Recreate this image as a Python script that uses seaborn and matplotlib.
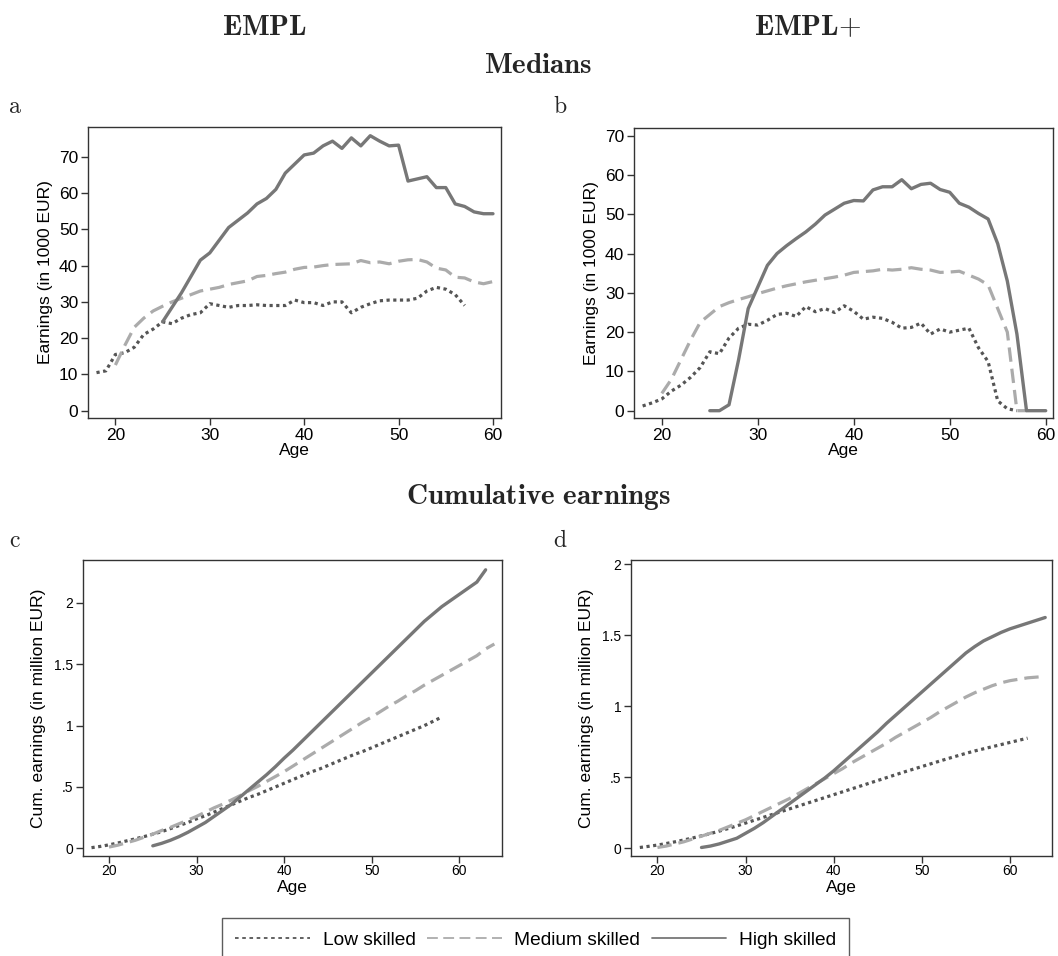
import numpy as np
import pandas as pd
import matplotlib
matplotlib.use("Agg")
import matplotlib.pyplot as plt
from matplotlib.lines import Line2D
import seaborn as sns

# ---------------- data ----------------
groups = ["Low skilled", "Medium skilled", "High skilled"]

# Panel a: medians EMPL (1000 EUR)
a_low_start, a_med_start, a_high_start = 18, 20, 25
a_low = [10.5, 11, 15.5, 16, 17.5, 21, 22.5, 24.5, 24, 25.5, 26.5, 27, 29.5, 29, 28.5, 29, 29, 29.2, 29, 29,
         29, 30.5, 29.8, 29.8, 29, 30, 30, 27, 28.5, 29.5, 30.3, 30.5, 30.5, 30.5, 31, 33, 34, 33.5, 32, 29]
a_med = [12.6, 18, 23, 25.5, 27.5, 28.8, 30, 31, 32, 33, 33.5, 34, 34.8, 35.3, 35.8, 37, 37.3, 37.8, 38.2, 39,
         39.5, 39.6, 40, 40.3, 40.4, 40.5, 41.4, 40.8, 41, 40.5, 41.2, 41.6, 41.7, 41, 39.3, 38.8, 36.8, 36.6,
         35.5, 35, 35.6]
a_high = [24.5, 28.5, 32.5, 37, 41.5, 43.5, 47, 50.5, 52.5, 54.5, 57, 58.5, 61, 65.5, 68, 70.5, 71, 73, 74.3,
          72.3, 75.2, 73, 75.8, 74.3, 73, 73.2, 63.3, 63.9, 64.5, 61.5, 61.5, 57, 56.3, 54.8, 54.3, 54.3]

# Panel b: medians EMPL+ (1000 EUR)
b_low_start, b_med_start, b_high_start = 18, 20, 25
b_low = [1.2, 2, 3, 5, 6.5, 8.5, 11, 15, 14.5, 18.5, 21, 22, 21.8, 23, 24.5, 24.8, 24, 26.5, 25.2, 26, 25,
         26.7, 25.3, 23.3, 23.8, 23.5, 22.5, 21, 21.2, 22.3, 19.5, 20.8, 20, 20.5, 21, 16, 12.5, 2.5, 0.5, 0]
b_med = [4.4, 8, 13, 18, 22.5, 24.5, 26.5, 27.5, 28.3, 29, 29.8, 30.5, 31.2, 31.8, 32.3, 32.8, 33.2, 33.6, 34,
         34.5, 35.2, 35.4, 35.6, 36, 35.8, 36, 36.4, 36, 35.8, 35.2, 35.3, 35.5, 34.5, 33.5, 32, 26, 20, 0, 0]
b_high = [0, 0, 1.5, 13, 26, 31.5, 37, 40, 42, 43.8, 45.5, 47.5, 49.8, 51.3, 52.8, 53.5, 53.4, 56.2, 57, 57,
          58.8, 56.5, 57.6, 57.9, 56.3, 55.6, 52.8, 51.8, 50.2, 48.8, 42.5, 33, 19.5, 0, 0, 0]

# Panel c: cumulative EMPL (million EUR)
c_low_start, c_med_start, c_high_start = 18, 20, 25
c_low = [0.005, 0.015, 0.028, 0.043, 0.06, 0.077, 0.095, 0.115, 0.135, 0.16, 0.185, 0.21, 0.24, 0.265, 0.295,
         0.325, 0.355, 0.385, 0.415, 0.44, 0.47, 0.5, 0.53, 0.56, 0.59, 0.62, 0.645, 0.675, 0.705, 0.735,
         0.765, 0.79, 0.82, 0.85, 0.88, 0.91, 0.94, 0.97, 1.0, 1.035, 1.07]
c_med = [0.01, 0.025, 0.045, 0.065, 0.09, 0.115, 0.145, 0.17, 0.2, 0.23, 0.26, 0.295, 0.33, 0.36, 0.395, 0.43,
         0.47, 0.505, 0.545, 0.585, 0.625, 0.67, 0.715, 0.76, 0.805, 0.85, 0.895, 0.94, 0.985, 1.03, 1.07,
         1.115, 1.16, 1.2, 1.245, 1.285, 1.33, 1.37, 1.41, 1.45, 1.49, 1.53, 1.57, 1.625, 1.665]
c_high = [0.02, 0.04, 0.065, 0.095, 0.13, 0.17, 0.21, 0.26, 0.31, 0.36, 0.42, 0.48, 0.54, 0.6, 0.665, 0.735,
          0.8, 0.87, 0.94, 1.01, 1.08, 1.15, 1.22, 1.29, 1.36, 1.43, 1.5, 1.57, 1.64, 1.71, 1.78, 1.85, 1.91,
          1.97, 2.02, 2.07, 2.12, 2.17, 2.27]

# Panel d: cumulative EMPL+ (million EUR)
d_low_start, d_med_start, d_high_start = 18, 20, 25
d_low = [0.005, 0.013, 0.022, 0.033, 0.045, 0.058, 0.072, 0.087, 0.103, 0.12, 0.138, 0.157, 0.177, 0.197,
         0.217, 0.237, 0.257, 0.277, 0.297, 0.317, 0.337, 0.357, 0.377, 0.397, 0.417, 0.437, 0.457, 0.477,
         0.497, 0.517, 0.537, 0.556, 0.575, 0.594, 0.613, 0.632, 0.65, 0.668, 0.685, 0.7, 0.715, 0.73, 0.745,
         0.76, 0.775]
d_med = [0.005, 0.015, 0.03, 0.045, 0.065, 0.085, 0.105, 0.125, 0.15, 0.175, 0.2, 0.23, 0.26, 0.29, 0.32, 0.35,
         0.385, 0.42, 0.455, 0.49, 0.525, 0.56, 0.6, 0.635, 0.67, 0.705, 0.74, 0.78, 0.815, 0.85, 0.885, 0.92,
         0.96, 0.995, 1.03, 1.065, 1.095, 1.12, 1.145, 1.165, 1.18, 1.19, 1.2, 1.205, 1.21]
d_high = [0.005, 0.015, 0.03, 0.05, 0.07, 0.105, 0.14, 0.18, 0.225, 0.27, 0.315, 0.36, 0.405, 0.45, 0.495,
          0.545, 0.6, 0.655, 0.71, 0.765, 0.82, 0.88, 0.935, 0.99, 1.045, 1.1, 1.155, 1.21, 1.265, 1.32,
          1.375, 1.42, 1.46, 1.49, 1.52, 1.545, 1.565, 1.585, 1.605, 1.625]

xticks = [20, 30, 40, 50, 60]
ab_yticks = [0, 10, 20, 30, 40, 50, 60, 70]
cd_yticks = [0, 0.5, 1, 1.5, 2]
cd_yticklabels = ["0", ".5", "1", "1.5", "2"]


def frame(start, values, group):
    return pd.DataFrame({"Age": np.arange(start, start + len(values)), "value": values, "group": group})


# ---------------- style ----------------
sns.set_theme(style="white")
plt.rcParams["font.family"] = ["Liberation Sans", "DejaVu Sans"]
plt.rcParams["mathtext.fontset"] = "cm"

colors = {"Low skilled": "#555555", "Medium skilled": "#ababab", "High skilled": "#777777"}
styles = {"Low skilled": (0, (1, 1.1)), "Medium skilled": (0, (4.5, 2.2)), "High skilled": "-"}
lws = {"Low skilled": 2.3, "Medium skilled": 2.3, "High skilled": 2.4}

W, H = 1058, 956
fig = plt.figure(figsize=(W / 100, H / 100), dpi=100)
fig.patch.set_facecolor("white")


def box(l, t, r, b):
    return [l / W, 1 - b / H, (r - l) / W, (b - t) / H]


axa = fig.add_axes(box(88, 127, 501, 418))
axb = fig.add_axes(box(634, 128, 1053, 418))
axc = fig.add_axes(box(83, 560, 502, 856))
axd = fig.add_axes(box(631, 560, 1052, 856))

panels = [
    (axa, [(a_low_start, a_low), (a_med_start, a_med), (a_high_start, a_high)]),
    (axb, [(b_low_start, b_low), (b_med_start, b_med), (b_high_start, b_high)]),
    (axc, [(c_low_start, c_low), (c_med_start, c_med), (c_high_start, c_high)]),
    (axd, [(d_low_start, d_low), (d_med_start, d_med), (d_high_start, d_high)]),
]

for ax, series in panels:
    for g, (start, vals) in zip(groups, series):
        df = frame(start, vals, g)
        sns.lineplot(data=df, x="Age", y="value", ax=ax, color=colors[g], linestyle=styles[g],
                     linewidth=lws[g], errorbar=None, sort=False, legend=False)
    for s in ax.spines.values():
        s.set_color("#333333")
        s.set_linewidth(1.0)
    ax.set_xticks(xticks)
    ax.tick_params(axis="both", which="both", direction="out", length=5, width=1, color="#333333",
                   bottom=True, left=True, top=False, right=False, pad=2)
    ax.set_xlabel("Age", fontsize=12.5, labelpad=0, color="black")

# a/b
axa.set_xlim(17.1, 60.85)
axa.set_ylim(-2.0, 78.2)
axb.set_xlim(17.1, 60.76)
axb.set_ylim(-1.86, 71.96)
for ax in (axa, axb):
    ax.set_yticks(ab_yticks)
    ax.tick_params(labelsize=12.5, labelcolor="black")
    ax.set_ylabel("Earnings (in 1000 EUR)", fontsize=12.5, labelpad=4, color="black")

# c/d
axc.set_xlim(17.03, 64.87)
axc.set_ylim(-0.063, 2.35)
axd.set_xlim(17.0, 64.77)
axd.set_ylim(-0.055, 2.03)
for ax in (axc, axd):
    ax.set_yticks(cd_yticks)
    ax.set_yticklabels(cd_yticklabels)
    ax.tick_params(labelsize=10, labelcolor="black")
    ax.tick_params(axis="x", pad=1)
    ax.set_ylabel("Cum. earnings (in million EUR)", fontsize=12.5, labelpad=6, color="black")
    for lab in ax.get_xticklabels() + ax.get_yticklabels():
        lab.set_fontfamily(["Liberation Sans Narrow", "Liberation Sans", "DejaVu Sans"])
    ax.xaxis.labelpad = 1

# titles
tfs = 21
fig.text(265 / W, 1 - 27 / H, r"$\mathbf{EMPL}$", ha="center", va="center", fontsize=tfs)
fig.text(808 / W, 1 - 27 / H, r"$\mathbf{EMPL{+}}$", ha="center", va="center", fontsize=tfs)
fig.text(538 / W, 1 - 65 / H, r"$\mathbf{Medians}$", ha="center", va="center", fontsize=tfs)
fig.text(538 / W, 1 - 497 / H, r"$\mathbf{Cumulative\ earnings}$", ha="center", va="center", fontsize=tfs)
for lab, x, y in [("a", 15, 107), ("b", 560, 107), ("c", 15, 541), ("d", 560, 541)]:
    fig.text(x / W, 1 - y / H, r"$\mathrm{%s}$" % lab, ha="center", va="center", fontsize=17)

# legend
handles = [Line2D([0], [0], color=colors[g], linestyle=styles[g], linewidth=1.3) for g in groups]
handles[0].set_linestyle((0, (2, 2)))
handles[1].set_linestyle((0, (6, 3)))
leg = fig.legend(handles, groups, ncol=3, loc="upper left", bbox_to_anchor=(222 / W, 1 - 918 / H),
                 frameon=True, fancybox=False, edgecolor="#333333", fontsize=13.8, handlelength=3.9,
                 handletextpad=0.65, columnspacing=0.6, borderaxespad=0, borderpad=0.7)
leg.get_frame().set_linewidth(1.0)
for t in leg.get_texts():
    t.set_color("black")

fig.savefig("out.png", dpi=100, facecolor="white")
